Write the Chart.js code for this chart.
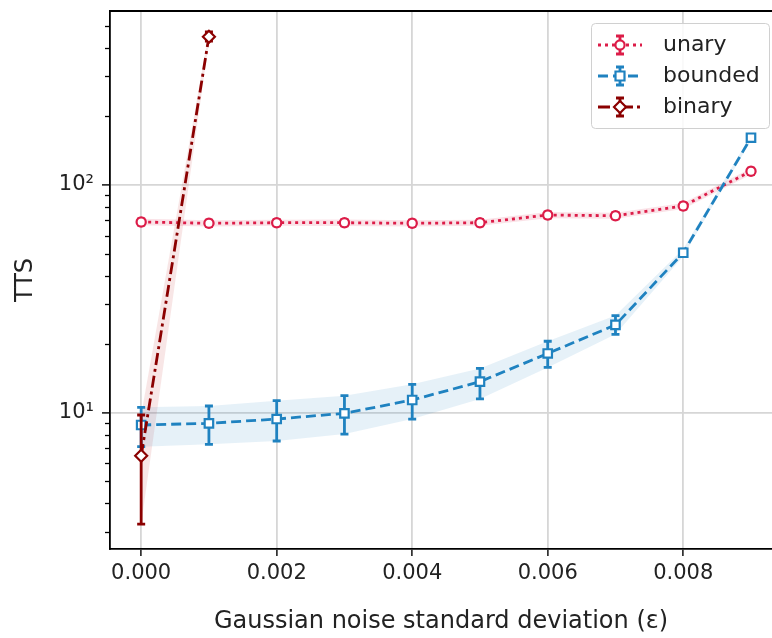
<!DOCTYPE html>
<html lang="en">
<head>
  <meta charset="UTF-8" />
  <title>TTS vs Gaussian noise</title>
  <script src="https://cdn.jsdelivr.net/npm/chart.js"></script>
  <style>
    * { margin: 0; padding: 0; }
    html, body { width: 772px; height: 638px; background: #fff; overflow: hidden; }
    #wrap { width: 772px; height: 638px; }
  </style>
</head>
<body>
  <div id="wrap"><canvas id="chart" width="772" height="638"></canvas></div>

  <script>
    // ---- data ----
    const noiseX = [0, 0.001, 0.002, 0.003, 0.004, 0.005, 0.006, 0.007, 0.008, 0.009];
    const binaryX = [0, 0.001];

    const unaryTTS  = [68.8, 67.9, 68.3, 68.3, 67.9, 68.3, 73.8, 73.3, 80.9, 114.9];
    const unaryLow  = [66.6, 65.8, 66.2, 66.1, 65.8, 66.2, 71.5, 71.0, 78.4, 111.3];
    const unaryHigh = [71.0, 70.0, 70.4, 70.5, 70.0, 70.4, 76.1, 75.6, 83.4, 118.5];

    const boundedTTS  = [8.83, 8.98, 9.38, 9.94, 11.37, 13.68, 18.2, 24.3, 50.4, 161.3];
    const boundedLow  = [7.09, 7.26, 7.51, 8.06, 9.38, 11.5, 15.8, 22.1, 48.6, 157.0];
    const boundedHigh = [10.56, 10.7, 11.29, 11.88, 13.32, 15.65, 20.6, 26.7, 52.3, 166.0];

    const binaryTTS  = [6.47, 448];
    const binaryLow  = [3.24, 428];
    const binaryHigh = [9.77, 470];

    const xTicks = [0, 0.002, 0.004, 0.006, 0.008];
    const yMajor = [10, 100];
    const yMinor = [3, 4, 5, 6, 7, 8, 9, 20, 30, 40, 50, 60, 70, 80, 90, 200, 300, 400, 500];

    const legendNames = ['unary', 'bounded', 'binary'];

    // ---- styling ----
    const C_UNARY = '#dc1c48';
    const C_BOUNDED = '#1f82c0';
    const C_BINARY = '#8b0000';
    const FONT = "'DejaVu Sans', sans-serif";

    const series = [
      { name: legendNames[0], xs: noiseX, y: unaryTTS, lo: unaryLow, hi: unaryHigh, color: C_UNARY,
        band: 'rgba(220,28,72,0.13)', dash: [3, 4], point: 'circle', radius: 4.6 },
      { name: legendNames[1], xs: noiseX, y: boundedTTS, lo: boundedLow, hi: boundedHigh, color: C_BOUNDED,
        band: 'rgba(31,130,192,0.11)', dash: [10, 5], point: 'rect', radius: 6 },
      { name: legendNames[2], xs: binaryX, y: binaryTTS, lo: binaryLow, hi: binaryHigh, color: C_BINARY,
        band: 'rgba(200,60,60,0.13)', dash: [12, 4, 3, 4], point: 'rectRot', radius: 6 }
    ];

    const pts = (xs, ys) => xs.map((x, i) => ({ x: x, y: ys[i] }));

    const datasets = [];
    series.forEach(s => {
      datasets.push({
        type: 'line', data: pts(s.xs, s.lo), borderWidth: 0, pointRadius: 0,
        fill: false, order: 20
      });
      datasets.push({
        type: 'line', data: pts(s.xs, s.hi), borderWidth: 0, pointRadius: 0,
        fill: '-1', backgroundColor: s.band, order: 20
      });
    });
    series.forEach((s, k) => {
      datasets.push({
        type: 'line', label: s.name, data: pts(s.xs, s.y),
        borderColor: s.color, borderWidth: 2.8, borderDash: s.dash,
        pointStyle: s.point, pointRadius: s.radius, pointBorderWidth: 2.2,
        pointBackgroundColor: '#fff', pointBorderColor: s.color,
        fill: false, tension: 0, order: 3 - k, errIdx: k
      });
    });

    // error bars drawn right before each line dataset
    const errorBars = {
      id: 'errorBars',
      beforeDatasetDraw(chart, args) {
        const ds = chart.data.datasets[args.index];
        if (ds.errIdx === undefined) return;
        const s = series[ds.errIdx];
        const xs = chart.scales.x, ys = chart.scales.y;
        const ctx = chart.ctx;
        ctx.save();
        ctx.strokeStyle = s.color;
        ctx.lineWidth = 2.8;
        s.xs.forEach((x, i) => {
          const px = xs.getPixelForValue(x);
          const top = ys.getPixelForValue(s.hi[i]);
          const bot = ys.getPixelForValue(s.lo[i]);
          ctx.beginPath();
          ctx.moveTo(px, top); ctx.lineTo(px, bot);
          ctx.moveTo(px - 4, top); ctx.lineTo(px + 4, top);
          ctx.moveTo(px - 4, bot); ctx.lineTo(px + 4, bot);
          ctx.stroke();
        });
        ctx.restore();
      }
    };

    // frame top line, minor y ticks, legend
    const decor = {
      id: 'decor',
      afterDraw(chart) {
        const ctx = chart.ctx;
        const a = chart.chartArea;
        const ys = chart.scales.y;
        ctx.save();
        ctx.strokeStyle = '#000';
        ctx.lineWidth = 1.8;
        ctx.beginPath();
        ctx.moveTo(a.left, a.top); ctx.lineTo(a.right, a.top);
        ctx.stroke();
        ctx.lineWidth = 1.3;
        yMinor.forEach(v => {
          const py = Math.round(ys.getPixelForValue(v)) + 0.5;
          ctx.beginPath();
          ctx.moveTo(a.left - 5, py); ctx.lineTo(a.left, py);
          ctx.stroke();
        });

        // legend
        const lx = 591, ly = 23, lw = 178, lh = 105;
        ctx.fillStyle = 'rgba(255,255,255,0.85)';
        ctx.strokeStyle = '#d0d0d0';
        ctx.lineWidth = 1;
        ctx.beginPath();
        ctx.roundRect(lx + 0.5, ly + 0.5, lw, lh, 4);
        ctx.fill(); ctx.stroke();
        const rows = [45, 76, 107];
        series.forEach((s, k) => {
          const cy = rows[k];
          ctx.strokeStyle = s.color;
          ctx.lineWidth = 2.8;
          ctx.setLineDash(s.dash);
          ctx.beginPath();
          ctx.moveTo(598, cy); ctx.lineTo(642, cy);
          ctx.stroke();
          ctx.setLineDash([]);
          ctx.beginPath();
          ctx.moveTo(620, cy - 9); ctx.lineTo(620, cy + 9);
          ctx.moveTo(616, cy - 9); ctx.lineTo(624, cy - 9);
          ctx.moveTo(616, cy + 9); ctx.lineTo(624, cy + 9);
          ctx.stroke();
          ctx.fillStyle = '#fff';
          ctx.lineWidth = 2.2;
          ctx.beginPath();
          if (s.point === 'circle') {
            ctx.arc(620, cy, 4.6, 0, Math.PI * 2);
          } else if (s.point === 'rect') {
            ctx.rect(615.5, cy - 4.5, 9, 9);
          } else {
            ctx.moveTo(620, cy - 6); ctx.lineTo(626, cy);
            ctx.lineTo(620, cy + 6); ctx.lineTo(614, cy); ctx.closePath();
          }
          ctx.fill(); ctx.stroke();
          ctx.fillStyle = '#222';
          ctx.font = '22px ' + FONT;
          ctx.textBaseline = 'middle';
          ctx.textAlign = 'left';
          ctx.fillText(s.name, 663, cy);
        });
        ctx.restore();
      }
    };

    const sup = { 10: '10\u00B9', 100: '10\u00B2' };

    new Chart(document.getElementById('chart'), {
      type: 'line',
      data: { datasets: datasets },
      plugins: [errorBars, decor],
      options: {
        responsive: false,
        animation: false,
        layout: { autoPadding: false, padding: { left: 0, right: 0, top: 11, bottom: 0 } },
        plugins: { legend: { display: false }, tooltip: { enabled: false } },
        scales: {
          x: {
            type: 'linear',
            min: -0.00046,
            max: 0.00931,
            afterBuildTicks: axis => { axis.ticks = xTicks.map(v => ({ value: v })); },
            afterFit: axis => { axis.height = 89; axis.paddingLeft = 0; axis.paddingRight = 0; },
            grid: { color: '#d6d6d6', lineWidth: 1.8, tickColor: '#000', tickLength: 7, tickWidth: 1.4 },
            border: { color: '#000', width: 1.8 },
            ticks: {
              color: '#222', font: { family: FONT, size: 21 }, padding: 5, maxRotation: 0,
              callback: v => v.toFixed(3)
            },
            title: {
              display: true, text: 'Gaussian noise standard deviation (\u03B5)',
              color: '#222', font: { family: FONT, size: 24 }, padding: { top: 0, bottom: 2 }
            }
          },
          y: {
            type: 'logarithmic',
            min: 2.52,
            max: 581,
            afterBuildTicks: axis => {
              axis.ticks = yMajor.map(v => ({ value: v, major: true }))
                .concat(yMinor.map(v => ({ value: v, major: false })));
            },
            afterFit: axis => { axis.width = 110; axis.paddingTop = 0; axis.paddingBottom = 0; },
            grid: {
              color: '#d6d6d6', lineWidth: 1.8, tickLength: 8, tickWidth: 1.4,
              tickColor: c => (c.tick && c.tick.major) ? '#000' : 'rgba(0,0,0,0)'
            },
            border: { color: '#000', width: 1.8 },
            ticks: {
              color: '#222', font: { family: FONT, size: 21 }, padding: 8,
              callback: v => sup[v] || ''
            },
            title: {
              display: true, text: 'TTS',
              color: '#222', font: { family: FONT, size: 24 }, padding: { top: 11, bottom: 0 }
            }
          }
        }
      }
    });
  </script>
</body>
</html>
